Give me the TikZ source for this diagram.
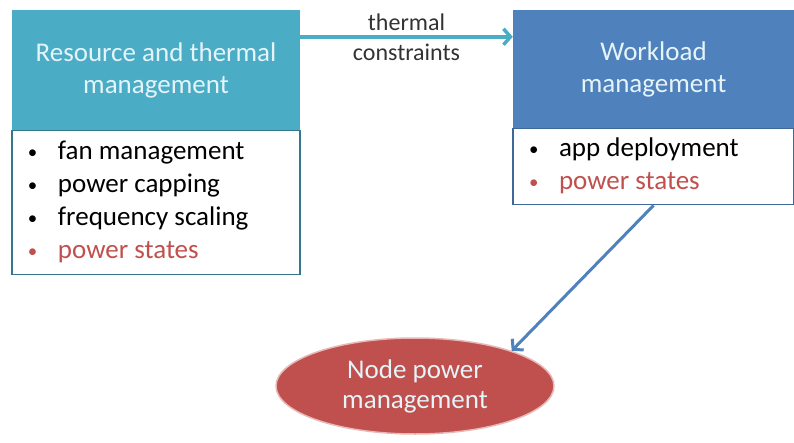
\documentclass[tikz,border=0pt]{standalone}
\usepackage{fontspec}
\setmainfont{Carlito}
\usepackage{xcolor}
\usepackage{graphicx}
\usetikzlibrary{positioning, shapes.geometric, arrows.meta}

\definecolor{aquahead}{HTML}{4BACC6}
\definecolor{bluehead}{HTML}{4F81BD}
\definecolor{redstate}{HTML}{C0504D}
\definecolor{headtext}{HTML}{E4F4F9}

\tikzset{
    header/.style={rectangle, minimum height=120pt, inner sep=0pt, align=center,
        text=headtext, font=\fontsize{27}{32}\selectfont},
    listbox/.style={rectangle, fill=white, inner xsep=15pt, inner ysep=0pt,
        font=\fontsize{27}{33}\selectfont, line width=1.2pt},
    link/.style={-{Straight Barb[length=7pt, width=16pt]}, line width=3.5pt}
}
\newcommand{\blt}{\makebox[31pt][l]{\hspace{1pt}\raisebox{1.5pt}{\scalebox{0.7}{\textbullet}}}}
\newcommand{\itm}[1]{\blt#1}
\newcommand{\redit}[1]{\textcolor{redstate}{\blt#1}}
\newcommand{\lst}[1]{\noindent\spaceskip=0pt\xspaceskip=0pt\begin{tabular}{@{}l@{}}#1\end{tabular}}

\begin{document}
\begin{tikzpicture}[x=1pt, y=-1pt]
        \useasboundingbox (0,0) rectangle (794,443);

        \node[header, fill=aquahead, minimum width=288pt] (rth) at (156,70)
            {Resource and thermal\\management};
        \node[listbox, draw=aquahead!70!black, minimum width=288pt, minimum height=144pt,
            text width=258pt, below=0pt of rth] (rtl)
            {\lst{\itm{fan management}\\\itm{power capping}\\\itm{frequency scaling}\\\redit{power states}}};

        \node[header, fill=bluehead, minimum width=281pt, minimum height=118pt] (wlh) at (653.5,69)
            {Workload\\management};
        \node[listbox, draw=bluehead!80!black, minimum width=281pt, minimum height=76pt,
            text width=251pt, below=0pt of wlh] (wll)
            {\lst{\itm{app deployment}\\\redit{power states}}};

        \node[ellipse, fill=redstate, draw=redstate!40!white, line width=1.5pt,
            minimum width=278pt, minimum height=96pt, inner sep=0pt, align=center,
            text=headtext, font=\fontsize{27}{30}\selectfont] (npm) at (415,386)
            {Node power\\management};

        \draw[link, aquahead] ([yshift=-27pt]rth.north east) -- ([yshift=-27pt]wlh.north west)
            node[midway, above=1pt, font=\fontsize{24}{28}\selectfont, text=black!80] {thermal}
            node[midway, below=2pt, font=\fontsize{24}{28}\selectfont, text=black!80] {constraints};
        \draw[link, bluehead, line width=3pt] (wll.south) -- (npm.20);

\end{tikzpicture}
\end{document}
